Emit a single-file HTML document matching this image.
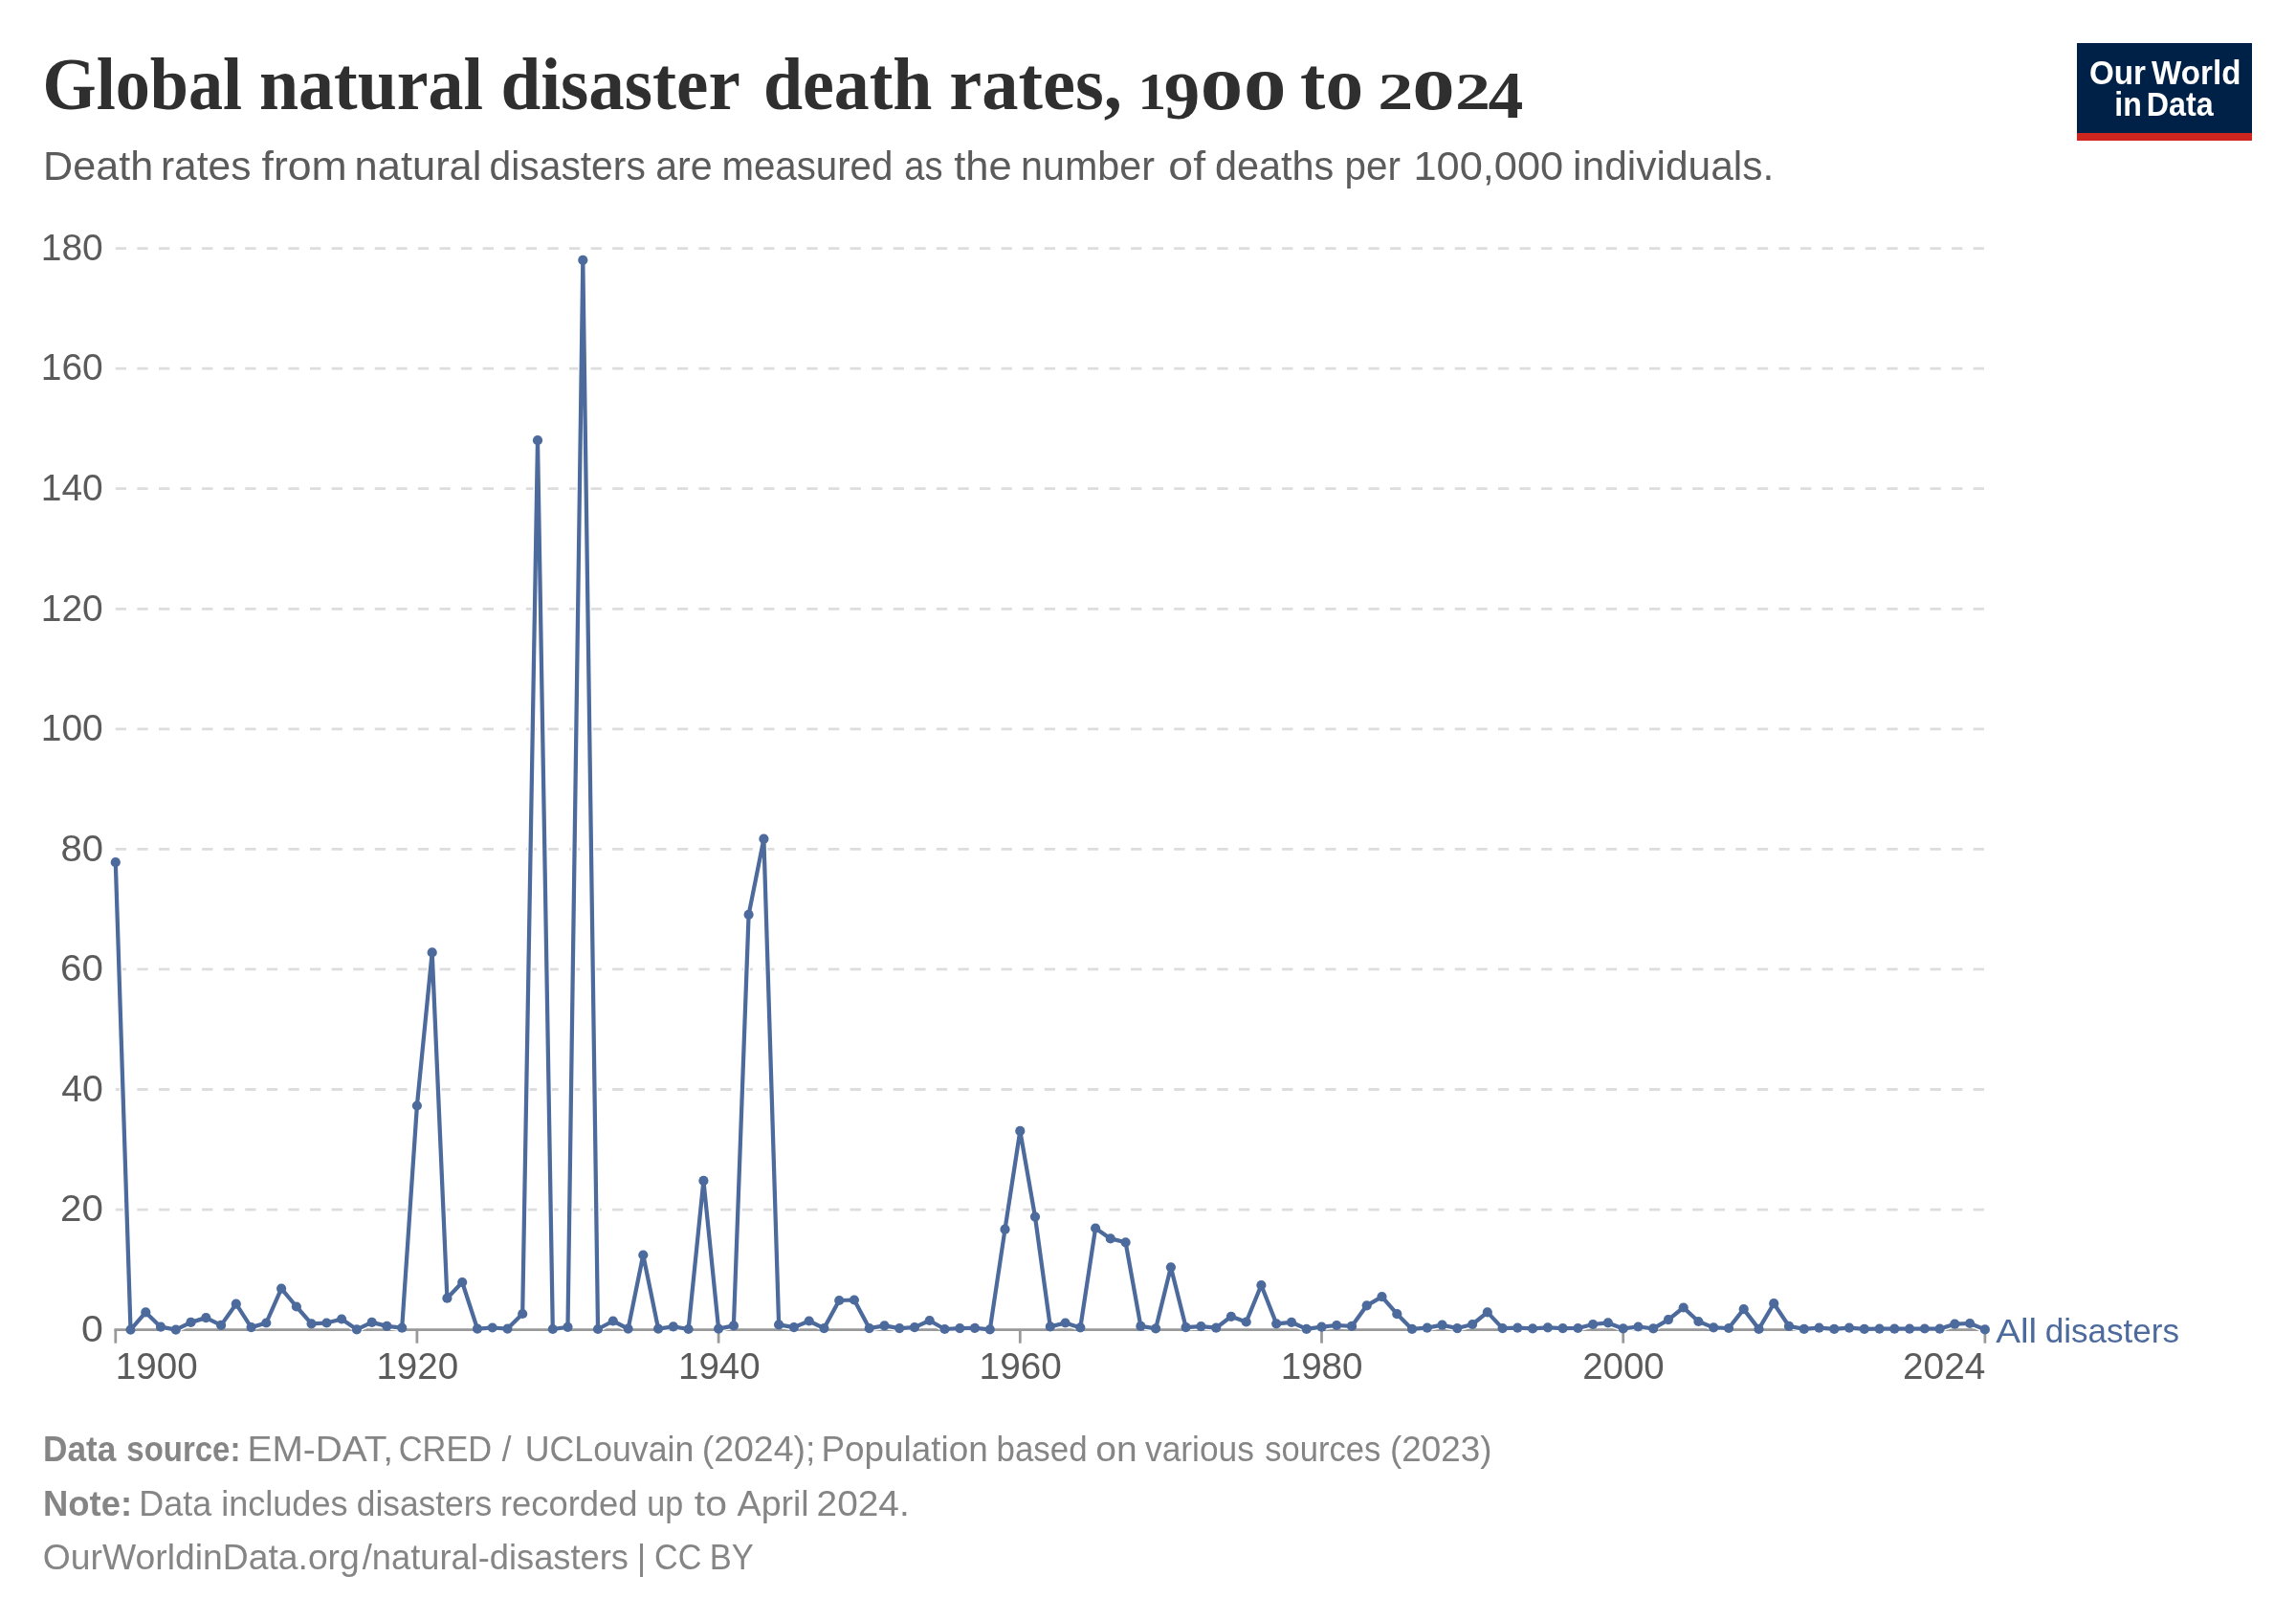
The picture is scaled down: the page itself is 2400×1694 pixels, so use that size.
<!DOCTYPE html>
<html><head><meta charset="utf-8"><title>Global natural disaster death rates, 1900 to 2024</title>
<style>
html,body{margin:0;padding:0;background:#fff;}
body{width:2400px;height:1694px;overflow:hidden;font-family:'Liberation Sans', sans-serif;}
svg{display:block;}
text{font-family:'Liberation Sans', sans-serif;}
.title{font-family:'Liberation Serif', serif;font-weight:bold;fill:#2f2f2f;}
.sub{fill:#5b5b5b;}
.tick{fill:#5b5b5b;}
.foot{fill:#858585;}
.b{font-weight:bold;}
.logo{font-weight:bold;fill:#fff;}
.lbl{fill:#4c6a9c;}
</style></head><body>
<svg width="2400" height="1694" viewBox="0 0 2400 1694" style="will-change:transform">
<rect width="2400" height="1694" fill="#fff"/>
<text class="title" x="44.47" y="114.1" font-size="78" textLength="208.69" lengthAdjust="spacingAndGlyphs">Global</text><text class="title" x="270.97" y="114.1" font-size="78" textLength="234.11" lengthAdjust="spacingAndGlyphs">natural</text><text class="title" x="523.5" y="114.1" font-size="78" textLength="250.25" lengthAdjust="spacingAndGlyphs">disaster</text><text class="title" x="797.94" y="114.1" font-size="78" textLength="176.51" lengthAdjust="spacingAndGlyphs">death</text><text class="title" x="992.19" y="114.1" font-size="78" textLength="180.67" lengthAdjust="spacingAndGlyphs">rates,</text>
<text class="title" x="1189.5" y="114.1" font-size="55.5" textLength="29.5" lengthAdjust="spacingAndGlyphs">1</text>
<text class="title" x="1216.8" y="123.69999999999999" font-size="70" textLength="37.5" lengthAdjust="spacingAndGlyphs">9</text>
<text class="title" x="1254.8" y="114.1" font-size="82" textLength="44.5" lengthAdjust="spacingAndGlyphs">o</text>
<text class="title" x="1299.9" y="114.1" font-size="82" textLength="44.5" lengthAdjust="spacingAndGlyphs">o</text>
<text class="title" x="1359" y="114.1" font-size="78" textLength="66" lengthAdjust="spacingAndGlyphs">to</text>
<text class="title" x="1440.2" y="114.1" font-size="55.5" textLength="37" lengthAdjust="spacingAndGlyphs">2</text>
<text class="title" x="1476.2" y="114.1" font-size="82" textLength="44.5" lengthAdjust="spacingAndGlyphs">o</text>
<text class="title" x="1521" y="114.1" font-size="55.5" textLength="37" lengthAdjust="spacingAndGlyphs">2</text>
<text class="title" x="1555.4" y="123.1" font-size="69" textLength="36.8" lengthAdjust="spacingAndGlyphs">4</text>
<text class="sub" x="45.04" y="187.6" font-size="41.6" textLength="115.1" lengthAdjust="spacingAndGlyphs">Death</text><text class="sub" x="167.94" y="187.6" font-size="41.6" textLength="94.48" lengthAdjust="spacingAndGlyphs">rates</text><text class="sub" x="273.54" y="187.6" font-size="41.6" textLength="89.16" lengthAdjust="spacingAndGlyphs">from</text><text class="sub" x="370.58" y="187.6" font-size="41.6" textLength="132.87" lengthAdjust="spacingAndGlyphs">natural</text><text class="sub" x="511.57" y="187.6" font-size="41.6" textLength="163.22" lengthAdjust="spacingAndGlyphs">disasters</text><text class="sub" x="685.25" y="187.6" font-size="41.6" textLength="59.41" lengthAdjust="spacingAndGlyphs">are</text><text class="sub" x="754.38" y="187.6" font-size="41.6" textLength="179.01" lengthAdjust="spacingAndGlyphs">measured</text><text class="sub" x="945.28" y="187.6" font-size="41.6" textLength="40.19" lengthAdjust="spacingAndGlyphs">as</text><text class="sub" x="997.15" y="187.6" font-size="41.6" textLength="60.41" lengthAdjust="spacingAndGlyphs">the</text><text class="sub" x="1067.12" y="187.6" font-size="41.6" textLength="139.83" lengthAdjust="spacingAndGlyphs">number</text><text class="sub" x="1221.33" y="187.6" font-size="41.6" textLength="38.73" lengthAdjust="spacingAndGlyphs">of</text><text class="sub" x="1269.94" y="187.6" font-size="41.6" textLength="124.41" lengthAdjust="spacingAndGlyphs">deaths</text><text class="sub" x="1405.58" y="187.6" font-size="41.6" textLength="58.34" lengthAdjust="spacingAndGlyphs">per</text><text class="sub" x="1477.45" y="187.6" font-size="41.6" textLength="156.78" lengthAdjust="spacingAndGlyphs">100,000</text><text class="sub" x="1644.13" y="187.6" font-size="41.6" textLength="210.19" lengthAdjust="spacingAndGlyphs">individuals.</text>
<g>
<rect x="2171" y="45" width="183" height="102" fill="#002147"/>
<rect x="2171" y="139" width="183" height="8" fill="#ce261e"/>
<text class="logo" x="2183.97" y="87.6" font-size="35.4" textLength="59.04" lengthAdjust="spacingAndGlyphs">Our</text><text class="logo" x="2249.1" y="87.6" font-size="35.4" textLength="93.32" lengthAdjust="spacingAndGlyphs">World</text>
<text class="logo" x="2210.25" y="121.4" font-size="35.4" textLength="28.51" lengthAdjust="spacingAndGlyphs">in</text><text class="logo" x="2243.73" y="121.4" font-size="35.4" textLength="69.83" lengthAdjust="spacingAndGlyphs">Data</text>
</g>
<line x1="120.8" x2="2074.7" y1="1264.1" y2="1264.1" stroke="#ddd" stroke-width="2.82" stroke-dasharray="11.29,11.29"/>
<line x1="120.8" x2="2074.7" y1="1138.5" y2="1138.5" stroke="#ddd" stroke-width="2.82" stroke-dasharray="11.29,11.29"/>
<line x1="120.8" x2="2074.7" y1="1012.9" y2="1012.9" stroke="#ddd" stroke-width="2.82" stroke-dasharray="11.29,11.29"/>
<line x1="120.8" x2="2074.7" y1="887.4" y2="887.4" stroke="#ddd" stroke-width="2.82" stroke-dasharray="11.29,11.29"/>
<line x1="120.8" x2="2074.7" y1="761.8" y2="761.8" stroke="#ddd" stroke-width="2.82" stroke-dasharray="11.29,11.29"/>
<line x1="120.8" x2="2074.7" y1="636.3" y2="636.3" stroke="#ddd" stroke-width="2.82" stroke-dasharray="11.29,11.29"/>
<line x1="120.8" x2="2074.7" y1="510.7" y2="510.7" stroke="#ddd" stroke-width="2.82" stroke-dasharray="11.29,11.29"/>
<line x1="120.8" x2="2074.7" y1="385.1" y2="385.1" stroke="#ddd" stroke-width="2.82" stroke-dasharray="11.29,11.29"/>
<line x1="120.8" x2="2074.7" y1="259.6" y2="259.6" stroke="#ddd" stroke-width="2.82" stroke-dasharray="11.29,11.29"/>
<text class="tick" x="85.06" y="1401.9" font-size="38" textLength="22.83" lengthAdjust="spacingAndGlyphs">0</text>
<text class="tick" x="63.09" y="1276.4" font-size="38" textLength="44.82" lengthAdjust="spacingAndGlyphs">20</text>
<text class="tick" x="64.22" y="1150.8" font-size="38" textLength="43.65" lengthAdjust="spacingAndGlyphs">40</text>
<text class="tick" x="63.09" y="1025.2" font-size="38" textLength="44.82" lengthAdjust="spacingAndGlyphs">60</text>
<text class="tick" x="63.4" y="899.7" font-size="38" textLength="44.49" lengthAdjust="spacingAndGlyphs">80</text>
<text class="tick" x="42.78" y="774.1" font-size="38" textLength="65.02" lengthAdjust="spacingAndGlyphs">100</text>
<text class="tick" x="42.78" y="648.6" font-size="38" textLength="65.02" lengthAdjust="spacingAndGlyphs">120</text>
<text class="tick" x="42.78" y="523.0" font-size="38" textLength="65.02" lengthAdjust="spacingAndGlyphs">140</text>
<text class="tick" x="42.78" y="397.4" font-size="38" textLength="65.02" lengthAdjust="spacingAndGlyphs">160</text>
<text class="tick" x="42.78" y="271.9" font-size="38" textLength="65.02" lengthAdjust="spacingAndGlyphs">180</text>
<line x1="119.45" x2="2076.1" y1="1389.55" y2="1389.55" stroke="#999" stroke-width="2.85"/>
<line x1="120.8" x2="120.8" y1="1389.55" y2="1403.7" stroke="#999" stroke-width="2.78"/>
<line x1="435.9" x2="435.9" y1="1389.55" y2="1403.7" stroke="#999" stroke-width="2.78"/>
<line x1="751.1" x2="751.1" y1="1389.55" y2="1403.7" stroke="#999" stroke-width="2.78"/>
<line x1="1066.3" x2="1066.3" y1="1389.55" y2="1403.7" stroke="#999" stroke-width="2.78"/>
<line x1="1381.5" x2="1381.5" y1="1389.55" y2="1403.7" stroke="#999" stroke-width="2.78"/>
<line x1="1696.7" x2="1696.7" y1="1389.55" y2="1403.7" stroke="#999" stroke-width="2.78"/>
<line x1="2074.9" x2="2074.9" y1="1389.55" y2="1403.7" stroke="#999" stroke-width="2.78"/>
<text class="tick" x="120.81" y="1441.1" font-size="38" textLength="85.82" lengthAdjust="spacingAndGlyphs">1900</text><text class="tick" x="393.41" y="1441.1" font-size="38" textLength="85.82" lengthAdjust="spacingAndGlyphs">1920</text><text class="tick" x="709.02" y="1441.1" font-size="38" textLength="85.51" lengthAdjust="spacingAndGlyphs">1940</text><text class="tick" x="1023.6" y="1441.1" font-size="38" textLength="86.14" lengthAdjust="spacingAndGlyphs">1960</text><text class="tick" x="1338.71" y="1441.1" font-size="38" textLength="85.82" lengthAdjust="spacingAndGlyphs">1980</text><text class="tick" x="1654.18" y="1441.1" font-size="38" textLength="85.55" lengthAdjust="spacingAndGlyphs">2000</text><text class="tick" x="1989.06" y="1441.1" font-size="38" textLength="86.29" lengthAdjust="spacingAndGlyphs">2024</text>
<path d="M120.8,901.2 L136.5,1389.6 L152.3,1371.4 L168.0,1386.7 L183.8,1389.6 L199.5,1381.9 L215.3,1377.1 L231.1,1384.9 L246.8,1362.7 L262.6,1387.1 L278.3,1382.5 L294.1,1346.7 L309.9,1365.5 L325.6,1383.3 L341.4,1382.5 L357.1,1378.5 L372.9,1389.3 L388.7,1381.9 L404.4,1385.9 L420.2,1387.7 L435.9,1155.5 L451.7,995.4 L467.4,1356.7 L483.2,1340.0 L499.0,1388.6 L514.7,1387.5 L530.5,1388.6 L546.2,1373.0 L562.0,460.2 L577.8,1389.0 L593.5,1386.8 L609.3,271.8 L625.0,1389.0 L640.8,1380.5 L656.6,1388.6 L672.3,1311.5 L688.1,1388.6 L703.8,1386.4 L719.6,1389.0 L735.4,1233.9 L751.1,1388.6 L766.9,1385.4 L782.6,955.8 L798.4,876.7 L814.1,1384.4 L829.9,1387.1 L845.7,1380.5 L861.4,1388.1 L877.2,1359.0 L892.9,1358.5 L908.7,1388.1 L924.5,1385.4 L940.2,1388.1 L956.0,1387.1 L971.7,1380.0 L987.5,1389.0 L1003.3,1388.1 L1019.0,1387.9 L1034.8,1389.3 L1050.5,1284.7 L1066.3,1181.9 L1082.0,1271.6 L1097.8,1386.4 L1113.6,1382.5 L1129.3,1387.4 L1145.1,1283.5 L1160.8,1294.4 L1176.6,1298.3 L1192.4,1385.9 L1208.1,1388.4 L1223.9,1324.3 L1239.6,1387.1 L1255.4,1386.2 L1271.2,1387.7 L1286.9,1375.8 L1302.7,1381.5 L1318.4,1343.0 L1334.2,1383.3 L1350.0,1381.8 L1365.7,1388.9 L1381.5,1386.7 L1397.2,1385.0 L1413.0,1385.9 L1428.7,1364.3 L1444.5,1355.1 L1460.3,1373.2 L1476.0,1388.9 L1491.8,1387.7 L1507.5,1384.7 L1523.3,1388.1 L1539.1,1384.0 L1554.8,1371.4 L1570.6,1388.1 L1586.3,1387.7 L1602.1,1388.4 L1617.9,1387.4 L1633.6,1388.1 L1649.4,1388.0 L1665.1,1384.0 L1680.9,1382.4 L1696.7,1388.4 L1712.4,1386.5 L1728.2,1388.4 L1743.9,1379.1 L1759.7,1366.5 L1775.4,1381.0 L1791.2,1387.4 L1807.0,1388.0 L1822.7,1368.1 L1838.5,1388.9 L1854.2,1362.2 L1870.0,1385.9 L1885.8,1388.9 L1901.5,1387.7 L1917.3,1388.9 L1933.0,1387.7 L1948.8,1388.9 L1964.6,1388.7 L1980.3,1388.7 L1996.1,1388.7 L2011.8,1388.5 L2027.6,1388.7 L2043.3,1383.7 L2059.1,1383.0 L2074.9,1389.4" fill="none" stroke="#fff" stroke-width="7.06" stroke-linejoin="round" stroke-linecap="round"/>
<path d="M120.8,901.2 L136.5,1389.6 L152.3,1371.4 L168.0,1386.7 L183.8,1389.6 L199.5,1381.9 L215.3,1377.1 L231.1,1384.9 L246.8,1362.7 L262.6,1387.1 L278.3,1382.5 L294.1,1346.7 L309.9,1365.5 L325.6,1383.3 L341.4,1382.5 L357.1,1378.5 L372.9,1389.3 L388.7,1381.9 L404.4,1385.9 L420.2,1387.7 L435.9,1155.5 L451.7,995.4 L467.4,1356.7 L483.2,1340.0 L499.0,1388.6 L514.7,1387.5 L530.5,1388.6 L546.2,1373.0 L562.0,460.2 L577.8,1389.0 L593.5,1386.8 L609.3,271.8 L625.0,1389.0 L640.8,1380.5 L656.6,1388.6 L672.3,1311.5 L688.1,1388.6 L703.8,1386.4 L719.6,1389.0 L735.4,1233.9 L751.1,1388.6 L766.9,1385.4 L782.6,955.8 L798.4,876.7 L814.1,1384.4 L829.9,1387.1 L845.7,1380.5 L861.4,1388.1 L877.2,1359.0 L892.9,1358.5 L908.7,1388.1 L924.5,1385.4 L940.2,1388.1 L956.0,1387.1 L971.7,1380.0 L987.5,1389.0 L1003.3,1388.1 L1019.0,1387.9 L1034.8,1389.3 L1050.5,1284.7 L1066.3,1181.9 L1082.0,1271.6 L1097.8,1386.4 L1113.6,1382.5 L1129.3,1387.4 L1145.1,1283.5 L1160.8,1294.4 L1176.6,1298.3 L1192.4,1385.9 L1208.1,1388.4 L1223.9,1324.3 L1239.6,1387.1 L1255.4,1386.2 L1271.2,1387.7 L1286.9,1375.8 L1302.7,1381.5 L1318.4,1343.0 L1334.2,1383.3 L1350.0,1381.8 L1365.7,1388.9 L1381.5,1386.7 L1397.2,1385.0 L1413.0,1385.9 L1428.7,1364.3 L1444.5,1355.1 L1460.3,1373.2 L1476.0,1388.9 L1491.8,1387.7 L1507.5,1384.7 L1523.3,1388.1 L1539.1,1384.0 L1554.8,1371.4 L1570.6,1388.1 L1586.3,1387.7 L1602.1,1388.4 L1617.9,1387.4 L1633.6,1388.1 L1649.4,1388.0 L1665.1,1384.0 L1680.9,1382.4 L1696.7,1388.4 L1712.4,1386.5 L1728.2,1388.4 L1743.9,1379.1 L1759.7,1366.5 L1775.4,1381.0 L1791.2,1387.4 L1807.0,1388.0 L1822.7,1368.1 L1838.5,1388.9 L1854.2,1362.2 L1870.0,1385.9 L1885.8,1388.9 L1901.5,1387.7 L1917.3,1388.9 L1933.0,1387.7 L1948.8,1388.9 L1964.6,1388.7 L1980.3,1388.7 L1996.1,1388.7 L2011.8,1388.5 L2027.6,1388.7 L2043.3,1383.7 L2059.1,1383.0 L2074.9,1389.4" fill="none" stroke="#4c6a9c" stroke-width="4.24" stroke-linejoin="round" stroke-linecap="round"/>
<g fill="#4c6a9c"><circle cx="120.8" cy="901.2" r="5.1"/><circle cx="136.5" cy="1389.6" r="5.1"/><circle cx="152.3" cy="1371.4" r="5.1"/><circle cx="168.0" cy="1386.7" r="5.1"/><circle cx="183.8" cy="1389.6" r="5.1"/><circle cx="199.5" cy="1381.9" r="5.1"/><circle cx="215.3" cy="1377.1" r="5.1"/><circle cx="231.1" cy="1384.9" r="5.1"/><circle cx="246.8" cy="1362.7" r="5.1"/><circle cx="262.6" cy="1387.1" r="5.1"/><circle cx="278.3" cy="1382.5" r="5.1"/><circle cx="294.1" cy="1346.7" r="5.1"/><circle cx="309.9" cy="1365.5" r="5.1"/><circle cx="325.6" cy="1383.3" r="5.1"/><circle cx="341.4" cy="1382.5" r="5.1"/><circle cx="357.1" cy="1378.5" r="5.1"/><circle cx="372.9" cy="1389.3" r="5.1"/><circle cx="388.7" cy="1381.9" r="5.1"/><circle cx="404.4" cy="1385.9" r="5.1"/><circle cx="420.2" cy="1387.7" r="5.1"/><circle cx="435.9" cy="1155.5" r="5.1"/><circle cx="451.7" cy="995.4" r="5.1"/><circle cx="467.4" cy="1356.7" r="5.1"/><circle cx="483.2" cy="1340.0" r="5.1"/><circle cx="499.0" cy="1388.6" r="5.1"/><circle cx="514.7" cy="1387.5" r="5.1"/><circle cx="530.5" cy="1388.6" r="5.1"/><circle cx="546.2" cy="1373.0" r="5.1"/><circle cx="562.0" cy="460.2" r="5.1"/><circle cx="577.8" cy="1389.0" r="5.1"/><circle cx="593.5" cy="1386.8" r="5.1"/><circle cx="609.3" cy="271.8" r="5.1"/><circle cx="625.0" cy="1389.0" r="5.1"/><circle cx="640.8" cy="1380.5" r="5.1"/><circle cx="656.6" cy="1388.6" r="5.1"/><circle cx="672.3" cy="1311.5" r="5.1"/><circle cx="688.1" cy="1388.6" r="5.1"/><circle cx="703.8" cy="1386.4" r="5.1"/><circle cx="719.6" cy="1389.0" r="5.1"/><circle cx="735.4" cy="1233.9" r="5.1"/><circle cx="751.1" cy="1388.6" r="5.1"/><circle cx="766.9" cy="1385.4" r="5.1"/><circle cx="782.6" cy="955.8" r="5.1"/><circle cx="798.4" cy="876.7" r="5.1"/><circle cx="814.1" cy="1384.4" r="5.1"/><circle cx="829.9" cy="1387.1" r="5.1"/><circle cx="845.7" cy="1380.5" r="5.1"/><circle cx="861.4" cy="1388.1" r="5.1"/><circle cx="877.2" cy="1359.0" r="5.1"/><circle cx="892.9" cy="1358.5" r="5.1"/><circle cx="908.7" cy="1388.1" r="5.1"/><circle cx="924.5" cy="1385.4" r="5.1"/><circle cx="940.2" cy="1388.1" r="5.1"/><circle cx="956.0" cy="1387.1" r="5.1"/><circle cx="971.7" cy="1380.0" r="5.1"/><circle cx="987.5" cy="1389.0" r="5.1"/><circle cx="1003.3" cy="1388.1" r="5.1"/><circle cx="1019.0" cy="1387.9" r="5.1"/><circle cx="1034.8" cy="1389.3" r="5.1"/><circle cx="1050.5" cy="1284.7" r="5.1"/><circle cx="1066.3" cy="1181.9" r="5.1"/><circle cx="1082.0" cy="1271.6" r="5.1"/><circle cx="1097.8" cy="1386.4" r="5.1"/><circle cx="1113.6" cy="1382.5" r="5.1"/><circle cx="1129.3" cy="1387.4" r="5.1"/><circle cx="1145.1" cy="1283.5" r="5.1"/><circle cx="1160.8" cy="1294.4" r="5.1"/><circle cx="1176.6" cy="1298.3" r="5.1"/><circle cx="1192.4" cy="1385.9" r="5.1"/><circle cx="1208.1" cy="1388.4" r="5.1"/><circle cx="1223.9" cy="1324.3" r="5.1"/><circle cx="1239.6" cy="1387.1" r="5.1"/><circle cx="1255.4" cy="1386.2" r="5.1"/><circle cx="1271.2" cy="1387.7" r="5.1"/><circle cx="1286.9" cy="1375.8" r="5.1"/><circle cx="1302.7" cy="1381.5" r="5.1"/><circle cx="1318.4" cy="1343.0" r="5.1"/><circle cx="1334.2" cy="1383.3" r="5.1"/><circle cx="1350.0" cy="1381.8" r="5.1"/><circle cx="1365.7" cy="1388.9" r="5.1"/><circle cx="1381.5" cy="1386.7" r="5.1"/><circle cx="1397.2" cy="1385.0" r="5.1"/><circle cx="1413.0" cy="1385.9" r="5.1"/><circle cx="1428.7" cy="1364.3" r="5.1"/><circle cx="1444.5" cy="1355.1" r="5.1"/><circle cx="1460.3" cy="1373.2" r="5.1"/><circle cx="1476.0" cy="1388.9" r="5.1"/><circle cx="1491.8" cy="1387.7" r="5.1"/><circle cx="1507.5" cy="1384.7" r="5.1"/><circle cx="1523.3" cy="1388.1" r="5.1"/><circle cx="1539.1" cy="1384.0" r="5.1"/><circle cx="1554.8" cy="1371.4" r="5.1"/><circle cx="1570.6" cy="1388.1" r="5.1"/><circle cx="1586.3" cy="1387.7" r="5.1"/><circle cx="1602.1" cy="1388.4" r="5.1"/><circle cx="1617.9" cy="1387.4" r="5.1"/><circle cx="1633.6" cy="1388.1" r="5.1"/><circle cx="1649.4" cy="1388.0" r="5.1"/><circle cx="1665.1" cy="1384.0" r="5.1"/><circle cx="1680.9" cy="1382.4" r="5.1"/><circle cx="1696.7" cy="1388.4" r="5.1"/><circle cx="1712.4" cy="1386.5" r="5.1"/><circle cx="1728.2" cy="1388.4" r="5.1"/><circle cx="1743.9" cy="1379.1" r="5.1"/><circle cx="1759.7" cy="1366.5" r="5.1"/><circle cx="1775.4" cy="1381.0" r="5.1"/><circle cx="1791.2" cy="1387.4" r="5.1"/><circle cx="1807.0" cy="1388.0" r="5.1"/><circle cx="1822.7" cy="1368.1" r="5.1"/><circle cx="1838.5" cy="1388.9" r="5.1"/><circle cx="1854.2" cy="1362.2" r="5.1"/><circle cx="1870.0" cy="1385.9" r="5.1"/><circle cx="1885.8" cy="1388.9" r="5.1"/><circle cx="1901.5" cy="1387.7" r="5.1"/><circle cx="1917.3" cy="1388.9" r="5.1"/><circle cx="1933.0" cy="1387.7" r="5.1"/><circle cx="1948.8" cy="1388.9" r="5.1"/><circle cx="1964.6" cy="1388.7" r="5.1"/><circle cx="1980.3" cy="1388.7" r="5.1"/><circle cx="1996.1" cy="1388.7" r="5.1"/><circle cx="2011.8" cy="1388.5" r="5.1"/><circle cx="2027.6" cy="1388.7" r="5.1"/><circle cx="2043.3" cy="1383.7" r="5.1"/><circle cx="2059.1" cy="1383.0" r="5.1"/><circle cx="2074.9" cy="1389.4" r="5.1"/></g>
<text class="lbl" x="2086.2" y="1402.9" font-size="35.9" textLength="42.96" lengthAdjust="spacingAndGlyphs">All</text><text class="lbl" x="2137.71" y="1402.9" font-size="35.9" textLength="140.39" lengthAdjust="spacingAndGlyphs">disasters</text>
<text class="foot b" x="45.02" y="1526.6" font-size="36.7" textLength="76.31" lengthAdjust="spacingAndGlyphs">Data</text><text class="foot b" x="132.35" y="1526.6" font-size="36.7" textLength="119.08" lengthAdjust="spacingAndGlyphs">source:</text>
<text class="foot" x="258.5" y="1526.6" font-size="36.7" textLength="152.43" lengthAdjust="spacingAndGlyphs">EM-DAT,</text><text class="foot" x="416.78" y="1526.6" font-size="36.7" textLength="97.4" lengthAdjust="spacingAndGlyphs">CRED</text><text class="foot" x="524.8" y="1526.6" font-size="36.7" textLength="9.71" lengthAdjust="spacingAndGlyphs">/</text><text class="foot" x="548.84" y="1526.6" font-size="36.7" textLength="176.39" lengthAdjust="spacingAndGlyphs">UCLouvain</text><text class="foot" x="733.76" y="1526.6" font-size="36.7" textLength="118.65" lengthAdjust="spacingAndGlyphs">(2024);</text><text class="foot" x="858.46" y="1526.6" font-size="36.7" textLength="174.29" lengthAdjust="spacingAndGlyphs">Population</text><text class="foot" x="1041.53" y="1526.6" font-size="36.7" textLength="95.02" lengthAdjust="spacingAndGlyphs">based</text><text class="foot" x="1145.24" y="1526.6" font-size="36.7" textLength="43.39" lengthAdjust="spacingAndGlyphs">on</text><text class="foot" x="1197.01" y="1526.6" font-size="36.7" textLength="113.87" lengthAdjust="spacingAndGlyphs">various</text><text class="foot" x="1322.35" y="1526.6" font-size="36.7" textLength="120.82" lengthAdjust="spacingAndGlyphs">sources</text><text class="foot" x="1453.1" y="1526.6" font-size="36.7" textLength="106.33" lengthAdjust="spacingAndGlyphs">(2023)</text>
<text class="foot b" x="44.94" y="1583.6" font-size="36.7" textLength="93.13" lengthAdjust="spacingAndGlyphs">Note:</text>
<text class="foot" x="145.34" y="1583.6" font-size="36.7" textLength="75.86" lengthAdjust="spacingAndGlyphs">Data</text><text class="foot" x="231.16" y="1583.6" font-size="36.7" textLength="132.36" lengthAdjust="spacingAndGlyphs">includes</text><text class="foot" x="372.8" y="1583.6" font-size="36.7" textLength="141.3" lengthAdjust="spacingAndGlyphs">disasters</text><text class="foot" x="522.93" y="1583.6" font-size="36.7" textLength="143.71" lengthAdjust="spacingAndGlyphs">recorded</text><text class="foot" x="676.18" y="1583.6" font-size="36.7" textLength="37.96" lengthAdjust="spacingAndGlyphs">up</text><text class="foot" x="725.79" y="1583.6" font-size="36.7" textLength="34.11" lengthAdjust="spacingAndGlyphs">to</text><text class="foot" x="770.61" y="1583.6" font-size="36.7" textLength="75.05" lengthAdjust="spacingAndGlyphs">April</text><text class="foot" x="853.56" y="1583.6" font-size="36.7" textLength="97.14" lengthAdjust="spacingAndGlyphs">2024.</text>
<text class="foot" x="44.83" y="1640.2" font-size="36.7" textLength="330.97" lengthAdjust="spacingAndGlyphs">OurWorldinData.org</text><text class="foot" x="378.8" y="1640.2" font-size="36.7" textLength="278.07" lengthAdjust="spacingAndGlyphs">/natural-disasters</text><text class="foot" x="670.5" y="1640.2" font-size="36.7" text-anchor="middle">|</text><text class="foot" x="684.09" y="1640.2" font-size="36.7" textLength="49.37" lengthAdjust="spacingAndGlyphs">CC</text><text class="foot" x="741.76" y="1640.2" font-size="36.7" textLength="45.98" lengthAdjust="spacingAndGlyphs">BY</text>
</svg></body></html>
